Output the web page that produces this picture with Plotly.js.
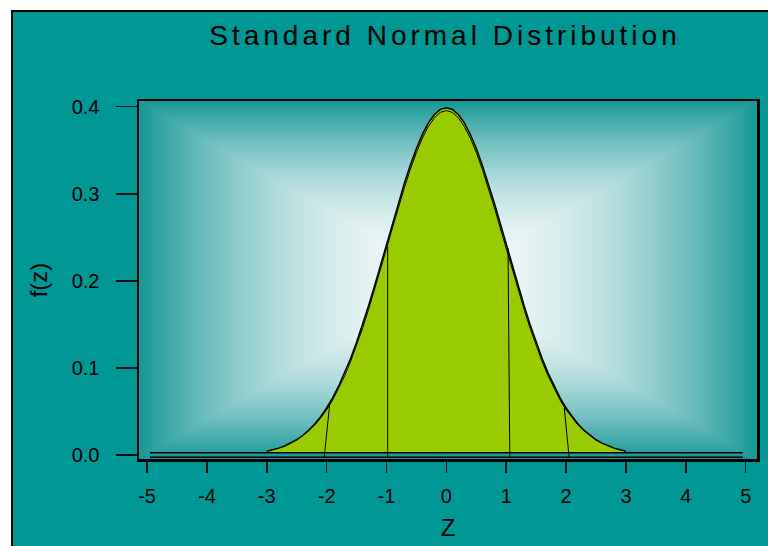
<!DOCTYPE html>
<html>
<head>
<meta charset="utf-8">
<script src="https://cdn.plot.ly/plotly-3.0.1.min.js"></script>
<style>html,body{margin:0;padding:0;background:#fff;}#chart{width:768px;height:546px;}</style>
</head>
<body>
<div id="chart"></div>
<script>
// ---- data ----
const zValues = [-3.0,-2.9,-2.8,-2.7,-2.6,-2.5,-2.4,-2.3,-2.2,-2.1,-2.0,-1.9,-1.8,-1.7,-1.6,-1.5,-1.4,-1.3,-1.2,-1.1,-1.0,-0.9,-0.8,-0.7,-0.6,-0.5,-0.4,-0.3,-0.2,-0.1,0.0,0.1,0.2,0.3,0.4,0.5,0.6,0.7,0.8,0.9,1.0,1.1,1.2,1.3,1.4,1.5,1.6,1.7,1.8,1.9,2.0,2.1,2.2,2.3,2.4,2.5,2.6,2.7,2.8,2.9,3.0];
const density = [0.0044,0.0060,0.0079,0.0104,0.0136,0.0175,0.0224,0.0283,0.0355,0.0440,0.0540,0.0656,0.0790,0.0940,0.1109,0.1295,0.1497,0.1714,0.1942,0.2179,0.2420,0.2661,0.2897,0.3123,0.3332,0.3521,0.3683,0.3814,0.3910,0.3970,0.3989,0.3970,0.3910,0.3814,0.3683,0.3521,0.3332,0.3123,0.2897,0.2661,0.2420,0.2179,0.1942,0.1714,0.1497,0.1295,0.1109,0.0940,0.0790,0.0656,0.0540,0.0440,0.0355,0.0283,0.0224,0.0175,0.0136,0.0104,0.0079,0.0060,0.0044];
const innerZ = [-2.3,-2.2,-2.1,-2.0,-1.9,-1.8,-1.7,-1.6,-1.5,-1.4,-1.3,-1.2,-1.1,-1.0,-0.9,-0.8,-0.7,-0.6,-0.5,-0.4,-0.3,-0.2,-0.1,0.0,0.1,0.2,0.3,0.4,0.5,0.6,0.7,0.8,0.9,1.0,1.1,1.2,1.3,1.4,1.5,1.6,1.7,1.8,1.9,2.0,2.1,2.2,2.3];
const innerDensity = [0.0283,0.0342,0.0423,0.0518,0.0630,0.0760,0.0907,0.1072,0.1255,0.1454,0.1668,0.1894,0.2129,0.2369,0.2609,0.2845,0.3072,0.3283,0.3474,0.3639,0.3773,0.3873,0.3935,0.3955,0.3935,0.3873,0.3773,0.3639,0.3474,0.3283,0.3072,0.2845,0.2609,0.2369,0.2129,0.1894,0.1668,0.1454,0.1255,0.1072,0.0907,0.0760,0.0630,0.0518,0.0423,0.0342,0.0283];
const fillBaseX = [-3.0, 3.0];
const fillBaseY = [0.0025, 0.0025];
const baseLineX = [-4.95, 4.95];
const upperBaseY = [0.0025, 0.0025];
const lowerBaseY = [-0.0025, -0.0025];
const markBottomX = [-2.04, -0.98, 1.06, 2.05];
const markTopX = [-1.95, -0.98, 1.03, 1.97];
const markBottomY = [-0.0025, -0.0025, -0.0025, -0.0025];
const markTopY = [0.0574, 0.239, 0.2377, 0.054];
const xTickVals = [-5,-4,-3,-2,-1,0,1,2,3,4,5];
const xTickText = ['-5','-4','-3','-2','-1','0','1','2','3','4','5'];
const yTickVals = [0, 0.1, 0.2, 0.3, 0.4];
const yTickText = ['0.0','0.1','0.2','0.3','0.4'];
const chartTitle = 'Standard Normal Distribution';
const xTitle = 'Z';
const yTitle = 'f(z)';

// ---- styling ----
const FONT = '"Liberation Sans", Arial, Helvetica, sans-serif';
const TEAL = '#009794';
const GREEN = '#99cc00';

const mx = [], my = [];
for (let i = 0; i < markBottomX.length; i++) {
  mx.push(markBottomX[i], markTopX[i], null);
  my.push(markBottomY[i], markTopY[i], null);
}

const traces = [
  {x: fillBaseX, y: fillBaseY, mode: 'lines', line: {width: 0, color: 'rgba(0,0,0,0)'}, hoverinfo: 'skip', showlegend: false},
  {x: zValues, y: density, mode: 'lines', fill: 'tonexty', fillcolor: GREEN, line: {color: '#000', width: 1.5}, showlegend: false},
  {x: innerZ, y: innerDensity, mode: 'lines', line: {color: '#000', width: 1}, showlegend: false},
  {x: mx, y: my, mode: 'lines', line: {color: '#000', width: 1}, showlegend: false},
  {x: baseLineX, y: upperBaseY, mode: 'lines', line: {color: '#000', width: 1.5}, showlegend: false},
  {x: baseLineX, y: lowerBaseY, mode: 'lines', line: {color: '#000', width: 1.5}, showlegend: false}
];

// background decoration: outer frame + rectangular gradient in the plot area
const L = 139, R = 11, T = 101, B = 87, W = 768, H = 546;
const pw = W - L - R, ph = H - T - B;
const shapes = [{
  type: 'rect', xref: 'paper', yref: 'paper', layer: 'below',
  x0: (12 - L) / pw, x1: (W + 20 - L) / pw,
  y0: (ph - (H + 20 - T)) / ph, y1: (ph - (11 - T)) / ph,
  fillcolor: TEAL, line: {color: '#000', width: 2}
}];
const edge = [22, 151, 150], center = [244, 249, 249];
const N = 90;
for (let i = 0; i < N; i++) {
  const t = 1 - i / N;
  const tc = t - 0.5 / N;
  const s = 1 - tc * tc;
  const c = edge.map((e, k) => Math.round(e + (center[k] - e) * s));
  shapes.push({
    type: 'rect', xref: 'paper', yref: 'paper', layer: 'below',
    x0: 0.5 - t / 2, x1: 0.5 + t / 2, y0: 0.5 - t / 2, y1: 0.5 + t / 2,
    fillcolor: `rgb(${c[0]},${c[1]},${c[2]})`, line: {width: 0}
  });
}

const layout = {
  width: W, height: H,
  margin: {l: L, r: R, t: T, b: B, pad: 0},
  paper_bgcolor: '#ffffff',
  plot_bgcolor: TEAL,
  font: {family: FONT, color: '#000'},
  showlegend: false,
  title: {
    text: '<span style="letter-spacing:4px">' + chartTitle + '</span>',
    font: {family: FONT, size: 28, color: '#000'},
    xref: 'container', yref: 'container', x: 445 / W, xanchor: 'center', y: 1 - 35 / H, yanchor: 'middle'
  },
  xaxis: {
    range: [-5.134, 5.189], autorange: false,
    tickmode: 'array', tickvals: xTickVals, ticktext: xTickText,
    ticks: 'outside', ticklen: 11, tickwidth: 1.5, tickcolor: '#111',
    showline: true, mirror: true, linecolor: '#000', linewidth: 2.5,
    showgrid: false, zeroline: false,
    tickfont: {family: FONT, size: 20, color: '#000'},
    ticklabelstandoff: 6,
    title: {text: xTitle, font: {family: FONT, size: 24, color: '#000'}, standoff: 14},
    fixedrange: true
  },
  yaxis: {
    range: [-0.0046, 0.40655], autorange: false,
    tickmode: 'array', tickvals: yTickVals, ticktext: yTickText,
    ticks: 'outside', ticklen: 21, tickwidth: 1.5, tickcolor: '#111',
    showline: true, mirror: true, linecolor: '#000', linewidth: 2.5,
    showgrid: false, zeroline: false,
    tickfont: {family: FONT, size: 20, color: '#000'},
    ticklabelstandoff: 12,
    title: {text: yTitle, font: {family: FONT, size: 24, color: '#000'}, standoff: 18},
    fixedrange: true
  },
  shapes: shapes
};

Plotly.newPlot('chart', traces, layout, {displayModeBar: false, staticPlot: true});
</script>
</body>
</html>
